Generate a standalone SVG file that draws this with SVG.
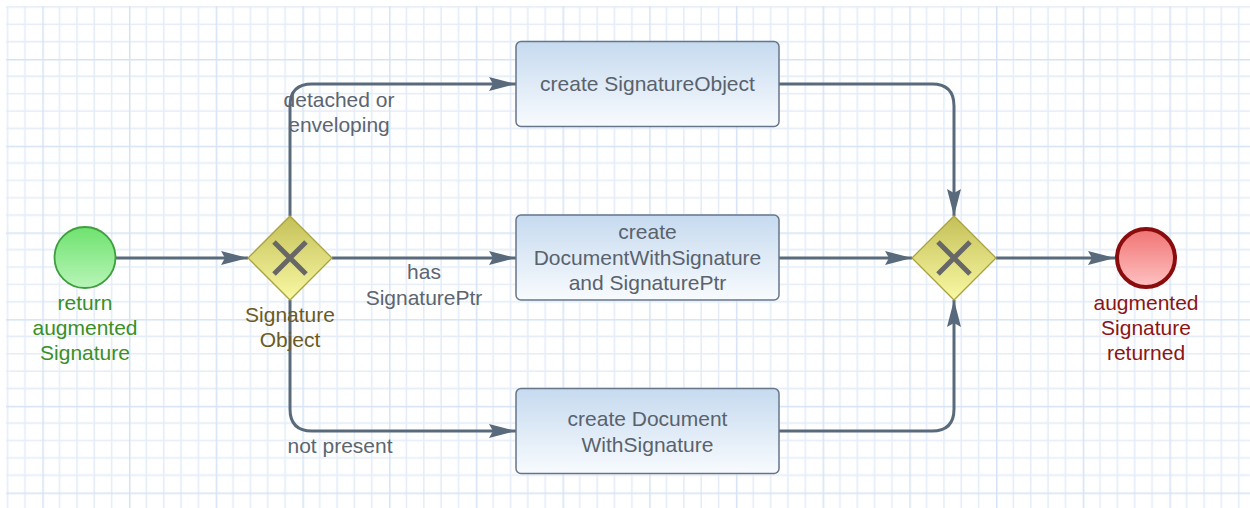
<svg xmlns="http://www.w3.org/2000/svg" width="1250" height="508" viewBox="0 0 1250 508">
<style>
.conn{fill:none;stroke:#586a7c;stroke-width:3;stroke-linejoin:round}
.task{stroke:#66768a;stroke-width:1.5;fill:url(#gTask)}
.t{font-family:"Liberation Sans",Arial,sans-serif;font-size:21px;text-anchor:middle}
.tt{fill:#59626d}
.cl{fill:#5c6570}
</style>
<defs>
<pattern id="grid" patternUnits="userSpaceOnUse" x="-44.4" y="-27.7" width="86.7" height="86.7">
<g stroke="#e5edf8" stroke-width="1.6">
<line x1="17.34" y1="0" x2="17.34" y2="86.7"/>
<line x1="34.68" y1="0" x2="34.68" y2="86.7"/>
<line x1="52.02" y1="0" x2="52.02" y2="86.7"/>
<line x1="69.36" y1="0" x2="69.36" y2="86.7"/>
<line y1="17.34" x1="0" y2="17.34" x2="86.7"/>
<line y1="34.68" x1="0" y2="34.68" x2="86.7"/>
<line y1="52.02" x1="0" y2="52.02" x2="86.7"/>
<line y1="69.36" x1="0" y2="69.36" x2="86.7"/>
</g>
<g stroke="#d6e3f4" stroke-width="2">
<line x1="0.5" y1="0" x2="0.5" y2="86.7"/>
<line y1="0.5" x1="0" y2="0.5" x2="86.7"/>
</g>
</pattern>
<linearGradient id="gTask" x1="0" y1="0" x2="0" y2="1">
<stop offset="0" stop-color="#c6daef"/>
<stop offset="1" stop-color="#f8fbfe"/>
</linearGradient>
<linearGradient id="gGw" x1="0" y1="0" x2="0" y2="1">
<stop offset="0" stop-color="#c4c058"/>
<stop offset="1" stop-color="#f9f9a4"/>
</linearGradient>
<linearGradient id="gStart" x1="0" y1="0" x2="0" y2="1">
<stop offset="0" stop-color="#6ee26e"/>
<stop offset="1" stop-color="#b8f5b8"/>
</linearGradient>
<linearGradient id="gEnd" x1="0" y1="0" x2="0" y2="1">
<stop offset="0" stop-color="#f07373"/>
<stop offset="1" stop-color="#ffc2c2"/>
</linearGradient>
<marker id="arr" markerUnits="userSpaceOnUse" markerWidth="28" markerHeight="16" refX="27" refY="7" orient="auto">
<path d="M0,0 L27,7 L0,14 L4,7 Z" fill="#586a7c"/>
</marker>
<g id="xmark">
<path d="M-16,-16 L16,16 M16,-16 L-16,16" stroke="#676767" stroke-width="5" stroke-linecap="butt"/>
</g>
</defs>
<rect x="0" y="0" width="1250" height="508" fill="#ffffff"/>
<rect x="6" y="6" width="1244" height="502" fill="url(#grid)"/>

<g id="connectors">
<path class="conn" d="M116,258 H248" marker-end="url(#arr)"/>
<path class="conn" d="M290,216 V106 Q290,84 312,84 H516" marker-end="url(#arr)"/>
<path class="conn" d="M332,258 H516" marker-end="url(#arr)"/>
<path class="conn" d="M290,300 V409 Q290,431 312,431 H516" marker-end="url(#arr)"/>
<path class="conn" d="M779,84 H932 Q954,84 954,106 V216" marker-end="url(#arr)"/>
<path class="conn" d="M779,258 H912" marker-end="url(#arr)"/>
<path class="conn" d="M779,431 H932 Q954,431 954,409 V300" marker-end="url(#arr)"/>
<path class="conn" d="M996,258 H1115" marker-end="url(#arr)"/>
<text class="t cl" x="339" y="107">detached or</text>
<text class="t cl" x="339" y="132">enveloping</text>
<text class="t cl" x="424" y="279">has</text>
<text class="t cl" x="424" y="305">SignaturePtr</text>
<text class="t cl" x="340" y="453">not present</text>
</g>

<g id="start">
<circle cx="85" cy="257.5" r="30.5" fill="url(#gStart)" stroke="#3f9f3f" stroke-width="1.8"/>
<text class="t" fill="#3a8f26" x="85" y="310">return</text>
<text class="t" fill="#3a8f26" x="85" y="335">augmented</text>
<text class="t" fill="#3a8f26" x="85" y="360">Signature</text>
</g>

<g id="gateway1">
<path d="M290,216 L332,258 L290,300 L248,258 Z" fill="url(#gGw)" stroke="#a9a23e" stroke-width="1.3"/>
<use href="#xmark" x="290" y="258"/>
<text class="t" fill="#6b5b1e" x="290" y="322">Signature</text>
<text class="t" fill="#6b5b1e" x="290" y="347">Object</text>
</g>

<g id="task1">
<rect class="task" x="516" y="41.5" width="263" height="85" rx="5"/>
<text class="t tt" x="647.5" y="91">create SignatureObject</text>
</g>

<g id="task2">
<rect class="task" x="516" y="215" width="263" height="85" rx="5"/>
<text class="t tt" x="647.5" y="238.5">create</text>
<text class="t tt" x="647.5" y="264.5">DocumentWithSignature</text>
<text class="t tt" x="647.5" y="290">and SignaturePtr</text>
</g>

<g id="task3">
<rect class="task" x="516" y="388.5" width="263" height="85" rx="5"/>
<text class="t tt" x="647.5" y="426">create Document</text>
<text class="t tt" x="647.5" y="452">WithSignature</text>
</g>

<g id="gateway2">
<path d="M954,216 L996,258 L954,300 L912,258 Z" fill="url(#gGw)" stroke="#a9a23e" stroke-width="1.3"/>
<use href="#xmark" x="954" y="258"/>
</g>

<g id="end">
<circle cx="1146" cy="258" r="29" fill="url(#gEnd)" stroke="#8b0c0c" stroke-width="4"/>
<text class="t" fill="#8b1515" x="1146" y="310">augmented</text>
<text class="t" fill="#8b1515" x="1146" y="335">Signature</text>
<text class="t" fill="#8b1515" x="1146" y="360">returned</text>
</g>
</svg>
